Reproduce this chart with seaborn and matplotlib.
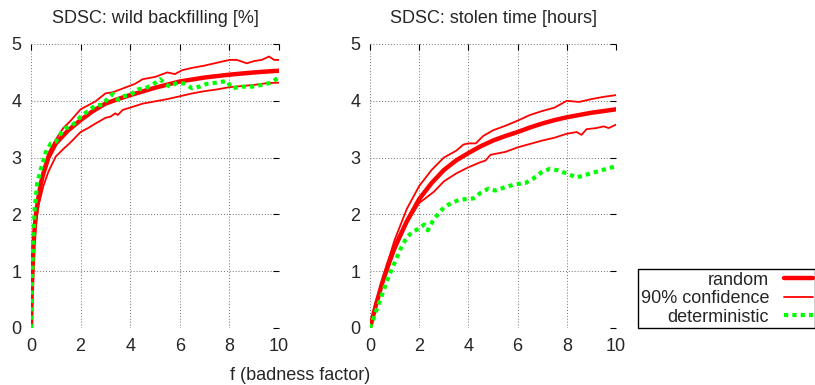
import matplotlib
matplotlib.use("Agg")
import matplotlib.pyplot as plt
import seaborn as sns
import pandas as pd

# left panel: SDSC wild backfilling [%]
wb_mean_x = [0, 0.02, 0.05, 0.1, 0.15, 0.2, 0.3, 0.4, 0.5, 0.7, 1.0, 1.5, 2.0, 2.5, 3.0,
             3.5, 4.0, 5.0, 6.0, 7.0, 8.0, 9.0, 10.0]
wb_mean = [0, 0.5, 0.9, 1.45, 1.78, 2.0, 2.3, 2.55, 2.72, 3.0, 3.25, 3.48, 3.66, 3.82, 3.95,
           4.03, 4.1, 4.23, 4.34, 4.41, 4.46, 4.5, 4.53]
wb_hi_x = [0, 0.05, 0.1, 0.2, 0.3, 0.5, 0.7, 1.0, 1.3, 1.6, 2.0, 2.3, 2.6, 3.0, 3.3, 3.6,
           3.9, 4.2, 4.5, 5.0, 5.5, 5.8, 6.1, 6.5, 7.0, 7.5, 8.0, 8.3, 8.7, 9.0, 9.3, 9.6,
           9.8, 10.0]
wb_hi = [0, 0.95, 1.5, 2.05, 2.38, 2.8, 3.08, 3.32, 3.52, 3.65, 3.85, 3.92, 3.99, 4.13, 4.15,
         4.2, 4.25, 4.3, 4.38, 4.42, 4.5, 4.47, 4.54, 4.58, 4.62, 4.67, 4.72, 4.72, 4.66, 4.7,
         4.72, 4.78, 4.72, 4.72]
wb_lo_x = [0, 0.05, 0.1, 0.2, 0.3, 0.5, 0.7, 1.0, 1.3, 1.6, 2.0, 2.3, 2.6, 3.0, 3.2, 3.4,
           3.5, 3.7, 4.0, 4.5, 5.0, 5.5, 6.0, 6.5, 7.0, 7.5, 8.0, 8.5, 9.0, 9.5, 10.0]
wb_lo = [0, 0.75, 1.3, 1.85, 2.15, 2.5, 2.75, 3.02, 3.15, 3.27, 3.45, 3.52, 3.6, 3.7, 3.72,
         3.78, 3.75, 3.84, 3.88, 3.95, 3.99, 4.03, 4.08, 4.13, 4.17, 4.2, 4.24, 4.26, 4.28,
         4.31, 4.32]
wb_det_x = [0, 0.05, 0.1, 0.15, 0.25, 0.4, 0.6, 0.8, 1.0, 1.2, 1.4, 1.6, 1.8, 2.0, 2.3, 2.6,
            2.9, 3.1, 3.3, 3.5, 3.7, 4.0, 4.3, 4.6, 4.9, 5.2, 5.4, 5.6, 5.9, 6.2, 6.5, 6.8,
            7.1, 7.5, 7.9, 8.1, 8.5, 8.9, 9.3, 9.7, 10.0]
wb_det = [0, 1.0, 1.6, 2.1, 2.55, 2.8, 3.1, 3.25, 3.28, 3.42, 3.52, 3.55, 3.62, 3.72, 3.82,
          3.92, 3.93, 4.05, 4.12, 4.02, 4.08, 4.1, 4.2, 4.22, 4.28, 4.38, 4.3, 4.25, 4.32, 4.3,
          4.22, 4.25, 4.3, 4.32, 4.35, 4.22, 4.25, 4.25, 4.28, 4.32, 4.42]

# right panel: SDSC stolen time [hours]
st_mean_x = [0, 0.1, 0.25, 0.5, 0.75, 1.0, 1.5, 2.0, 2.5, 3.0, 3.5, 4.0, 4.5, 5.0, 5.5, 6.0,
             6.5, 7.0, 7.5, 8.0, 8.5, 9.0, 9.5, 10.0]
st_mean = [0, 0.17, 0.42, 0.8, 1.13, 1.42, 1.88, 2.27, 2.55, 2.78, 2.95, 3.08, 3.2, 3.3, 3.38,
           3.45, 3.53, 3.6, 3.66, 3.71, 3.75, 3.79, 3.82, 3.85]
st_hi_x = [0, 0.25, 0.5, 1.0, 1.5, 2.0, 2.5, 3.0, 3.5, 3.8, 4.0, 4.3, 4.6, 5.0, 5.5, 6.0, 6.5,
           7.0, 7.5, 8.0, 8.5, 9.0, 9.5, 10.0]
st_hi = [0, 0.45, 0.85, 1.55, 2.1, 2.5, 2.78, 3.0, 3.12, 3.23, 3.25, 3.25, 3.38, 3.48, 3.56,
         3.65, 3.75, 3.82, 3.88, 4.0, 3.98, 4.03, 4.07, 4.1]
st_lo_x = [0, 0.25, 0.5, 1.0, 1.5, 2.0, 2.3, 2.6, 3.0, 3.5, 4.0, 4.5, 4.7, 4.9, 5.5, 6.0, 6.5,
           7.0, 7.5, 8.0, 8.4, 8.6, 8.8, 9.2, 9.5, 9.7, 10.0]
st_lo = [0, 0.4, 0.75, 1.35, 1.85, 2.2, 2.3, 2.4, 2.58, 2.72, 2.83, 2.92, 2.95, 3.05, 3.1,
         3.18, 3.24, 3.3, 3.35, 3.42, 3.45, 3.4, 3.5, 3.52, 3.55, 3.52, 3.58]
st_det_x = [0, 0.25, 0.5, 0.75, 1.0, 1.25, 1.5, 1.75, 2.0, 2.2, 2.35, 2.6, 3.0, 3.3, 3.6, 3.9,
            4.2, 4.5, 4.8, 5.1, 5.5, 5.9, 6.3, 6.6, 7.0, 7.3, 7.6, 8.0, 8.4, 8.8, 9.2, 9.6,
            10.0]
st_det = [0, 0.3, 0.6, 0.9, 1.15, 1.4, 1.6, 1.7, 1.75, 1.82, 1.72, 1.92, 2.12, 2.2, 2.25,
          2.27, 2.28, 2.38, 2.45, 2.42, 2.48, 2.53, 2.55, 2.62, 2.75, 2.8, 2.78, 2.72, 2.65,
          2.7, 2.75, 2.8, 2.85]

titles = ["SDSC: wild backfilling [%]", "SDSC: stolen time [hours]"]
labels = ["random", "90% confidence", "deterministic"]
ticks_x = [0, 2, 4, 6, 8, 10]
ticks_y = [0, 1, 2, 3, 4, 5]

sns.set_style("white")
plt.rcParams["font.family"] = ["Liberation Sans", "DejaVu Sans"]
plt.rcParams["font.size"] = 13

RED = "#ff0000"
GREEN = "#00ff00"


def frame(x, y):
    return pd.DataFrame({"x": x, "y": y})


def draw_panel(ax, mean, hi, lo, det, title):
    sns.lineplot(data=frame(*hi), x="x", y="y", ax=ax, color=RED, lw=1.3,
                 sort=False, estimator=None)
    sns.lineplot(data=frame(*lo), x="x", y="y", ax=ax, color=RED, lw=1.3,
                 sort=False, estimator=None)
    sns.lineplot(data=frame(*mean), x="x", y="y", ax=ax, color=RED, lw=3.2,
                 sort=False, estimator=None)
    sns.lineplot(data=frame(*det), x="x", y="y", ax=ax, color=GREEN, lw=3.0,
                 linestyle=(0, (1, 1)), sort=False, estimator=None)
    ax.set_xlim(0, 10)
    ax.set_ylim(0, 5)
    ax.set_xticks(ticks_x)
    ax.set_yticks(ticks_y)
    ax.set_xlabel("")
    ax.set_ylabel("")
    ax.set_title(title, fontsize=13, pad=15)
    ax.grid(True, color="#707070", linestyle=(0, (1, 2)), linewidth=0.7)
    ax.tick_params(direction="in", length=4, width=0.8, color="black",
                   top=True, right=True, labelsize=13, pad=7)
    for s in ax.spines.values():
        s.set_visible(False)


fig = plt.figure(figsize=(8.15, 3.85), dpi=100)
ax1 = fig.add_axes([31 / 815, 1 - 328 / 385, 248 / 815, 284 / 385])
ax2 = fig.add_axes([370 / 815, 1 - 328 / 385, 246 / 815, 284 / 385])

draw_panel(ax1, (wb_mean_x, wb_mean), (wb_hi_x, wb_hi), (wb_lo_x, wb_lo),
           (wb_det_x, wb_det), titles[0])
draw_panel(ax2, (st_mean_x, st_mean), (st_hi_x, st_hi), (st_lo_x, st_lo),
           (st_det_x, st_det), titles[1])

fig.text(300 / 815, 1 - 375 / 385, "f (badness factor)", ha="center", va="center",
         fontsize=13)

lines = ax2.get_lines()
handles = [lines[2], lines[0], lines[3]]
leg = fig.legend(handles, labels, loc="upper left",
                 bbox_to_anchor=(638 / 815, 1 - 269 / 385), markerfirst=False,
                 fancybox=False, framealpha=1, edgecolor="black", fontsize=13,
                 borderpad=0.15, borderaxespad=0, handlelength=1.6,
                 handletextpad=0.8, labelspacing=0.08)
leg.get_frame().set_linewidth(1.0)

fig.savefig("out.png", dpi=100)
